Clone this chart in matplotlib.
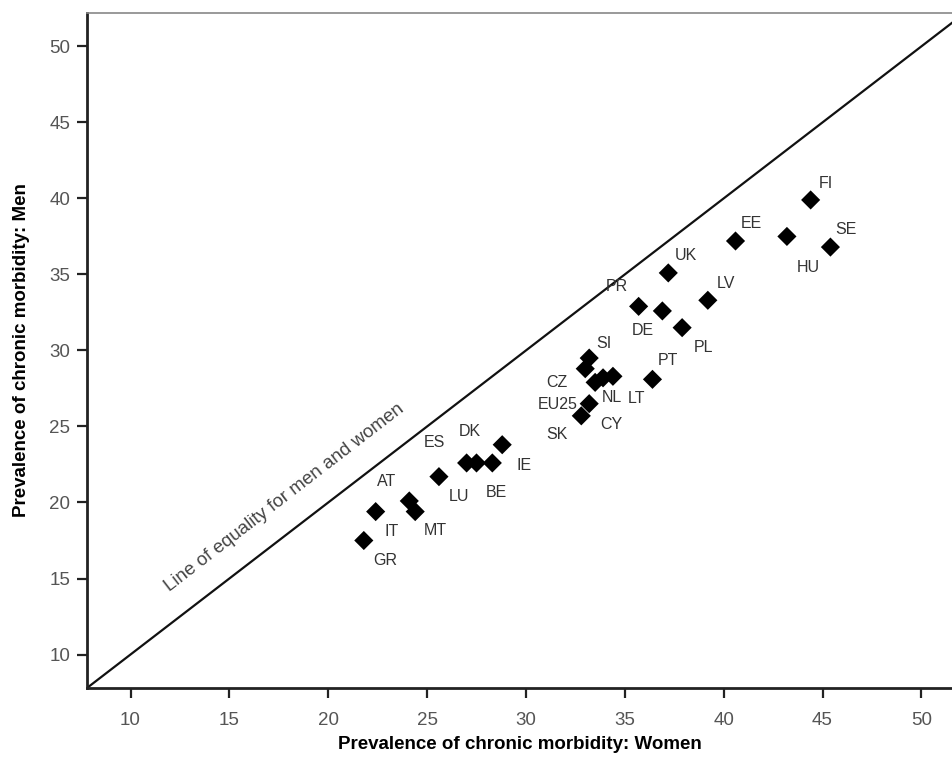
import matplotlib.pyplot as plt

plt.rcParams['font.family'] = ['Liberation Sans', 'DejaVu Sans']

# prevalence of chronic morbidity (%) by country
countries = ['FI', 'EE', 'HU', 'SE', 'UK', 'LV', 'PR', 'DE', 'PL',
             'SI', 'CZ', 'NL', 'CY', 'LT', 'EU25', 'SK', 'PT',
             'ES', 'DK', 'LU', 'BE', 'IE', 'AT', 'MT', 'IT', 'GR']
women = [44.4, 40.6, 43.2, 45.4, 37.2, 39.2, 35.7, 36.9, 37.9,
         33.2, 33.0, 33.5, 33.9, 34.4, 33.2, 32.8, 36.4,
         27.0, 27.5, 25.6, 28.3, 28.8, 24.1, 24.4, 22.4, 21.8]
men = [39.9, 37.2, 37.5, 36.8, 35.1, 33.3, 32.9, 32.6, 31.5,
       29.5, 28.8, 27.9, 28.2, 28.3, 26.5, 25.7, 28.1,
       22.6, 22.6, 21.7, 22.6, 23.8, 20.1, 19.4, 19.4, 17.5]

# label offsets in pixels (dx right, dy down)
label_offsets = {
    'FI': (15, -16), 'EE': (16, -17), 'HU': (21, 31), 'SE': (16, -18),
    'UK': (18, -17), 'LV': (18, -17), 'PR': (-22, -20), 'DE': (-20, 20),
    'PL': (21, 20), 'SI': (15, -15), 'CZ': (-28, 14), 'NL': (17, 15),
    'CY': (8, 47), 'LT': (24, 22), 'EU25': (-32, 1), 'SK': (-24, 19),
    'PT': (15, -19), 'ES': (-32, -20), 'DK': (-7, -31), 'LU': (20, 20),
    'BE': (4, 30), 'IE': (22, 21), 'AT': (-23, -19), 'MT': (20, 19),
    'IT': (16, 20), 'GR': (21, 20),
}

fig = plt.figure(figsize=(9.53, 7.71), dpi=100)
ax = fig.add_axes([0.0913, 0.1077, 0.9087, 0.8755])

xmin, xmax = 7.8, 51.6
ymin, ymax = 7.8, 52.2

# line of equality
ax.plot([xmin, ymax], [xmin, ymax], color='#111111', lw=1.6, zorder=1)
ax.text(17.8, 20.3, 'Line of equality for men and women', rotation=37.6,
        rotation_mode='anchor', ha='center', va='center',
        fontsize=13.5, color='#444444')

ax.scatter(women, men, marker='D', s=95, color='black', zorder=3,
           edgecolors='none')

for c, xv, yv in zip(countries, women, men):
    dx, dy = label_offsets[c]
    ax.annotate(c, (xv, yv), xytext=(dx, -dy), textcoords='offset pixels',
                ha='center', va='center', fontsize=11.5, color='#333333')

ax.set_xlim(xmin, xmax)
ax.set_ylim(ymin, ymax)
ax.set_xticks(range(10, 51, 5))
ax.set_yticks(range(10, 51, 5))

ax.spines['right'].set_visible(False)
ax.spines['top'].set_color('#888888')
ax.spines['top'].set_linewidth(1.2)
for s in ['left', 'bottom']:
    ax.spines[s].set_linewidth(2)
    ax.spines[s].set_color('#222222')
ax.tick_params(axis='both', direction='out', length=7, width=1.6,
               colors='#222222', labelcolor='#555555', labelsize=13.5)
ax.tick_params(axis='x', pad=10)
ax.tick_params(axis='y', pad=5)

ax.set_xlabel('Prevalence of chronic morbidity: Women', fontsize=13.5,
              fontweight='bold', labelpad=5)
ax.set_ylabel('Prevalence of chronic morbidity: Men', fontsize=13.5,
              fontweight='bold', labelpad=14)

fig.savefig('out.png', dpi=100)
